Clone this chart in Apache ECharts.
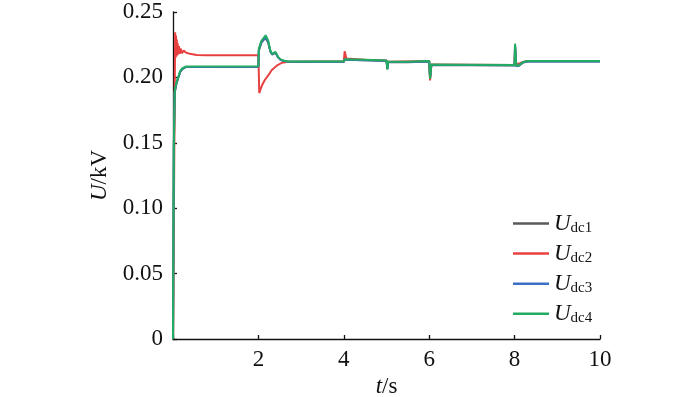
<!DOCTYPE html>
<html>
<head>
<meta charset="utf-8">
<script src="https://cdn.jsdelivr.net/npm/echarts@6/dist/echarts.min.js"></script>
<style>
html,body{margin:0;padding:0;background:#fff;}
#main{width:700px;height:397px;}
</style>
</head>
<body>
<div id="main"></div>
<script>
// 时间轴 (s)
var tRed = [0, 0.035, 0.05, 0.06, 0.07, 0.08, 0.09, 0.10, 0.11, 0.12, 0.14, 0.16, 0.18, 0.21, 0.25, 0.30, 0.40, 0.55, 0.80,
	2.0, 2.02, 2.05, 2.10, 2.15, 2.23, 2.31, 2.43, 2.55, 2.70, 3.35, 3.36, 3.37, 3.45, 3.46, 3.47, 3.55, 3.56, 3.57,
	4.0, 4.02, 4.06, 4.10, 4.50, 5.0, 5.02, 5.04, 6.0, 6.02, 6.05, 7.0, 8.0, 8.01, 8.04, 8.08, 8.20, 8.30, 10];
var uRed = [0, 0, 0.2346, 0.2150, 0.2320, 0.2160, 0.2290, 0.2170, 0.2260, 0.2175, 0.2240, 0.2180, 0.2220, 0.2185, 0.2205, 0.2190, 0.2180, 0.2172, 0.2170,
	0.2170, 0.1880, 0.1910, 0.1950, 0.1980, 0.2015, 0.2055, 0.2090, 0.2112, 0.2120, 0.2122, 0.2132, 0.2122, 0.2122, 0.2132, 0.2122, 0.2122, 0.2132, 0.2122,
	0.2122, 0.2200, 0.2145, 0.2138, 0.2135, 0.2130, 0.2085, 0.2120, 0.2125, 0.1977, 0.2098, 0.2097, 0.2095, 0.2225, 0.2098, 0.2105, 0.2118, 0.2125, 0.2125];

var tDc = [0, 0.02, 0.04, 0.08, 0.12, 0.17, 0.22, 0.30, 2.0, 2.01, 2.07, 2.12, 2.17, 2.20, 2.23, 2.28, 2.32, 2.36, 2.40, 2.46, 2.52, 2.60, 2.70,
	4.0, 4.02, 4.50, 5.0, 5.01, 5.02, 5.04, 5.50, 6.0, 6.01, 6.02, 6.05, 7.0, 8.0, 8.01, 8.04, 8.10, 8.20, 8.30, 10];
var uGreen = [0, 0.150, 0.190, 0.196, 0.200, 0.205, 0.207, 0.2083, 0.2085, 0.2220, 0.2280, 0.2300, 0.2322, 0.2310, 0.2280, 0.2206, 0.2180, 0.2190, 0.2195, 0.2157, 0.2138, 0.2128, 0.2122,
	0.2122, 0.2138, 0.2135, 0.2130, 0.2145, 0.2060, 0.2120, 0.2120, 0.2125, 0.2138, 0.1990, 0.2098, 0.2097, 0.2095, 0.2258, 0.2088, 0.2092, 0.2118, 0.2125, 0.2125];
var uBlue = [0, 0.148, 0.189, 0.1955, 0.1995, 0.2045, 0.2066, 0.2080, 0.2082, 0.2210, 0.2270, 0.2290, 0.2305, 0.2300, 0.2270, 0.2200, 0.2176, 0.2186, 0.2190, 0.2154, 0.2135, 0.2125, 0.2119,
	0.2119, 0.2135, 0.2132, 0.2127, 0.2140, 0.2065, 0.2117, 0.2117, 0.2122, 0.2132, 0.1995, 0.2095, 0.2094, 0.2092, 0.2250, 0.2086, 0.2090, 0.2115, 0.2122, 0.2122];
var uGrey = [0, 0.146, 0.188, 0.1950, 0.1992, 0.2042, 0.2064, 0.2079, 0.2081, 0.2205, 0.2265, 0.2285, 0.2300, 0.2295, 0.2265, 0.2198, 0.2175, 0.2184, 0.2188, 0.2153, 0.2134, 0.2124, 0.2118,
	0.2118, 0.2134, 0.2131, 0.2126, 0.2138, 0.2066, 0.2116, 0.2116, 0.2121, 0.2130, 0.1997, 0.2094, 0.2093, 0.2091, 0.2245, 0.2086, 0.2089, 0.2114, 0.2121, 0.2121];

var names = ['Udc1', 'Udc2', 'Udc3', 'Udc4'];
var colors = ['#5a5a5a', '#e8403f', '#3d6fc6', '#22ac62'];
var yTicks = [0, 0.05, 0.10, 0.15, 0.20, 0.25];
var xTicks = [0, 2, 4, 6, 8, 10];

var serif = '"Liberation Serif", "Times New Roman", serif';

function zip(t, u){
	var d = [];
	for (var i = 0; i < t.length; i++) d.push([t[i], u[i]]);
	return d;
}

var option = {
	animation: false,
	color: colors,
	grid: {left: 173, right: 100, top: 12, bottom: 58, outerBoundsMode: 'none'},
	legend: {
		orient: 'vertical',
		left: 508,
		top: 207,
		icon: 'rect',
		itemWidth: 36,
		itemHeight: 2.5,
		itemGap: 6.6,
		data: names,
		formatter: function(name){ return '{u|U}{s|' + name.slice(1) + '}'; },
		textStyle: {
			color: '#111',
			rich: {
				u: {fontFamily: serif, fontStyle: 'italic', fontSize: 23, lineHeight: 24, color: '#111'},
				s: {fontFamily: serif, fontSize: 15, lineHeight: 14, verticalAlign: 'bottom', color: '#111'}
			}
		}
	},
	xAxis: {
		type: 'value',
		min: xTicks[0],
		max: xTicks[xTicks.length - 1],
		interval: 2,
		name: '{i|t}/s',
		nameLocation: 'middle',
		nameGap: 34,
		nameTextStyle: {
			fontFamily: serif, fontSize: 23, color: '#111',
			rich: {i: {fontFamily: serif, fontStyle: 'italic', fontSize: 23, color: '#111'}}
		},
		axisLine: {lineStyle: {color: '#111', width: 1.3}},
		axisTick: {inside: true, length: 4, lineStyle: {color: '#111', width: 1.3}},
		axisLabel: {
			fontFamily: serif, fontSize: 23, color: '#111', margin: 9,
			formatter: function(v){ return v === 0 ? '' : String(v); }
		},
		splitLine: {show: false}
	},
	yAxis: {
		type: 'value',
		min: yTicks[0],
		max: yTicks[yTicks.length - 1],
		interval: 0.05,
		name: '{i|U}/kV',
		nameLocation: 'middle',
		nameGap: 60,
		nameTextStyle: {
			fontFamily: serif, fontSize: 23, color: '#111',
			rich: {i: {fontFamily: serif, fontStyle: 'italic', fontSize: 23, color: '#111'}}
		},
		axisLine: {show: true, lineStyle: {color: '#111', width: 1.3}},
		axisTick: {show: true, inside: true, length: 4, lineStyle: {color: '#111', width: 1.3}},
		axisLabel: {
			fontFamily: serif, fontSize: 23, color: '#111', margin: 10,
			formatter: function(v){ return v === 0 ? '0' : v.toFixed(2); }
		},
		splitLine: {show: false}
	},
	series: [
		{name: names[0], type: 'line', symbol: 'none', lineStyle: {width: 2}, data: zip(tDc, uGrey)},
		{name: names[1], type: 'line', symbol: 'none', lineStyle: {width: 2}, data: zip(tRed, uRed)},
		{name: names[2], type: 'line', symbol: 'none', lineStyle: {width: 2}, data: zip(tDc, uBlue)},
		{name: names[3], type: 'line', symbol: 'none', lineStyle: {width: 2}, data: zip(tDc, uGreen)}
	]
};

echarts.init(document.getElementById('main')).setOption(option);
</script>
</body>
</html>
